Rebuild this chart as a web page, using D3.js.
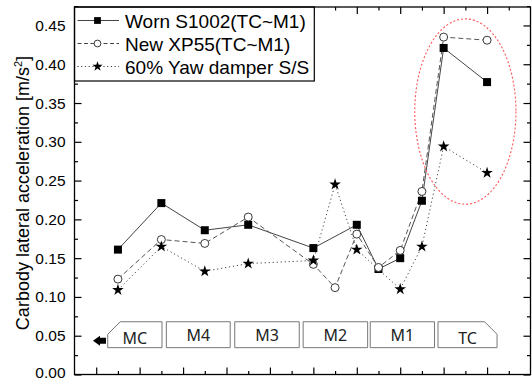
<!DOCTYPE html>
<html>
<head>
<meta charset="utf-8">
<script src="https://cdn.jsdelivr.net/npm/d3@7"></script>
<style>
  html, body { margin: 0; padding: 0; background: #fff; }
  svg { display: block; }
</style>
</head>
<body>
<svg id="chart" width="532" height="381"></svg>
<script>
// Measurement positions along the train (car sections)
const wornPos  = [2, 4, 6, 8, 11, 13, 14, 15, 16, 17, 19];
const wornVals = [0.161, 0.221, 0.186, 0.193, 0.163, 0.193, 0.136, 0.150, 0.224, 0.421, 0.377];

const xp55Pos  = [2, 4, 6, 8, 11, 12, 13, 14, 15, 16, 17, 19];
const xp55Vals = [0.123, 0.174, 0.169, 0.203, 0.142, 0.112, 0.181, 0.138, 0.160, 0.236, 0.435, 0.431];

const yawPos   = [2, 4, 6, 8, 11, 12, 13, 15, 16, 17, 19];
const yawVals  = [0.109, 0.165, 0.133, 0.143, 0.147, 0.245, 0.161, 0.110, 0.165, 0.294, 0.260];

const seriesNames = ["Worn S1002(TC~M1)", "New XP55(TC~M1)", "60% Yaw damper S/S"];

// Car sections drawn along the bottom of the plot
const carLabels = ["MC", "M4", "M3", "M2", "M1", "TC"];
const carStart  = [1.53, 4.23, 7.38, 10.53, 13.62, 16.74];
const carEnd    = [4.03, 7.17, 10.35, 13.5, 16.58, 19.46];

const yTickLabels = ["0.00", "0.05", "0.10", "0.15", "0.20", "0.25", "0.30", "0.35", "0.40", "0.45"];
const yAxisTitle = "Carbody lateral acceleration [m/s";

const svg = d3.select("#chart");
const L = 74.5, R = 530.5, T = 7, B = 374.5;

const x = d3.scaleLinear().domain([0, 21]).range([L, R]);
const y = d3.scaleLinear().domain([0, 0.4738]).range([B, T]);

const yMajor = yTickLabels.map(Number);
const yMinor = yMajor.map(v => v + 0.025);
const xTicks = d3.range(1, 21);
const xMajor = xTicks.filter(v => v % 2 === 1);
const xMinor = xTicks.filter(v => v % 2 === 0);

// Axes with inward ticks on all four sides
function tickAxis(gen, scale, values, size, transform) {
  svg.append("g")
    .attr("transform", transform)
    .call(gen(scale).tickValues(values).tickSize(size).tickFormat("").tickSizeOuter(0))
    .call(g => g.select(".domain").remove())
    .call(g => g.selectAll("line").attr("stroke", "#000").attr("stroke-width", 1.2));
}
tickAxis(d3.axisBottom, x, xMajor, -7, `translate(0,${B})`);
tickAxis(d3.axisBottom, x, xMinor, -3.5, `translate(0,${B})`);
tickAxis(d3.axisTop, x, xMajor, -7, `translate(0,${T})`);
tickAxis(d3.axisTop, x, xMinor, -3.5, `translate(0,${T})`);
tickAxis(d3.axisLeft, y, yMajor, -7, `translate(${L},0)`);
tickAxis(d3.axisLeft, y, yMinor, -3.5, `translate(${L},0)`);
tickAxis(d3.axisRight, y, yMajor, -7, `translate(${R},0)`);
tickAxis(d3.axisRight, y, yMinor, -3.5, `translate(${R},0)`);

// Y tick labels (the lowest one is nudged up to stay inside the canvas)
svg.append("g")
  .selectAll("text")
  .data(yTickLabels)
  .join("text")
  .attr("x", L - 9)
  .attr("y", d => Math.min(y(+d) + 5.5, 377.5))
  .attr("text-anchor", "end")
  .attr("font-family", "Liberation Sans, Arial, sans-serif")
  .attr("font-size", 15.5)
  .attr("fill", "#000")
  .text(d => d);

// Y axis title
const title = svg.append("text")
  .attr("transform", `translate(29,193) rotate(-90)`)
  .attr("text-anchor", "middle")
  .attr("font-family", "Liberation Sans, Arial, sans-serif")
  .attr("font-size", 18)
  .attr("fill", "#000");
title.append("tspan").text(yAxisTitle);
title.append("tspan").attr("font-size", 11).attr("dy", -7).text("2");
title.append("tspan").attr("dy", 7).text("]");

// Car section boxes
const boxTop = y(0.068), boxBot = y(0.0346), cham = 12.5;
carLabels.forEach((lab, i) => {
  const x0 = x(carStart[i]), x1 = x(carEnd[i]);
  let pts;
  if (i === 0) {
    pts = [[x0, boxTop + cham], [x0 + cham, boxTop], [x1, boxTop], [x1, boxBot], [x0, boxBot]];
  } else if (i === carLabels.length - 1) {
    pts = [[x0, boxTop], [x1 - cham, boxTop], [x1, boxTop + cham], [x1, boxBot], [x0, boxBot]];
  } else {
    pts = [[x0, boxTop], [x1, boxTop], [x1, boxBot], [x0, boxBot]];
  }
  svg.append("polygon")
    .attr("points", pts.map(p => p.join(",")).join(" "))
    .attr("fill", "#fff")
    .attr("stroke", "#777")
    .attr("stroke-width", 1);
  const end = (i === 0 || i === carLabels.length - 1);
  svg.append("text")
    .attr("x", (x0 + x1) / 2)
    .attr("y", end ? boxBot - 4 : boxBot - 7)
    .attr("text-anchor", "middle")
    .attr("font-family", "Noto Sans, Open Sans, sans-serif")
    .attr("font-size", 16)
    .attr("fill", "#222")
    .text(lab);
});

// Direction arrow pointing left
const ay = y(0.0436), ax = x(0.85);
svg.append("path")
  .attr("d", `M${ax},${ay} L${ax + 7},${ay - 5} L${ax + 7},${ay - 3} L${ax + 13},${ay - 3} L${ax + 13},${ay + 3} L${ax + 7},${ay + 3} L${ax + 7},${ay + 5} Z`)
  .attr("fill", "#000");

// Series lines
const line = d3.line().x(d => x(d[0])).y(d => y(d[1]));
const worn = wornPos.map((p, i) => [p, wornVals[i]]);
const xp55 = xp55Pos.map((p, i) => [p, xp55Vals[i]]);
const yaw = yawPos.map((p, i) => [p, yawVals[i]]);

svg.append("path").datum(worn).attr("d", line)
  .attr("fill", "none").attr("stroke", "#444").attr("stroke-width", 1);
svg.append("path").datum(xp55).attr("d", line)
  .attr("fill", "none").attr("stroke", "#555").attr("stroke-width", 1)
  .attr("stroke-dasharray", "5,3");
svg.append("path").datum(yaw).attr("d", line)
  .attr("fill", "none").attr("stroke", "#444").attr("stroke-width", 1)
  .attr("stroke-dasharray", "1.2,2.8");

// Markers
const sq = d3.symbol().type(d3.symbolSquare).size(64);
const star = d3.symbol().type(d3.symbolStar).size(42);

svg.append("g").selectAll("path").data(worn).join("path")
  .attr("d", sq).attr("transform", d => `translate(${x(d[0])},${y(d[1])})`)
  .attr("fill", "#000");
svg.append("g").selectAll("circle").data(xp55).join("circle")
  .attr("cx", d => x(d[0])).attr("cy", d => y(d[1])).attr("r", 4)
  .attr("fill", "#fff").attr("stroke", "#222").attr("stroke-width", 0.9);
svg.append("g").selectAll("path").data(yaw).join("path")
  .attr("d", star).attr("transform", d => `translate(${x(d[0])},${y(d[1])})`)
  .attr("fill", "#000");

// Highlight ellipse around the TC readings
const ecx = 18, ecy = 0.339;
svg.append("ellipse")
  .attr("cx", x(ecx)).attr("cy", y(ecy))
  .attr("rx", x(ecx + 2.33) - x(ecx)).attr("ry", y(ecy - 0.1195) - y(ecy))
  .attr("fill", "none").attr("stroke", "#f55").attr("stroke-width", 1.1)
  .attr("stroke-dasharray", "2,2");

// Legend
const legendRight = 314.3, legendBottom = 81;
svg.append("rect")
  .attr("x", L).attr("y", T).attr("width", legendRight - L).attr("height", legendBottom - T)
  .attr("fill", "#fff").attr("stroke", "#000").attr("stroke-width", 1.2);
const legendRows = [20.5, 43.5, 66.5];
const legendDash = [null, "4,2.5", "1.2,2.5"];
seriesNames.forEach((name, i) => {
  const cy = legendRows[i];
  svg.append("line")
    .attr("x1", L + 3).attr("x2", 119).attr("y1", cy).attr("y2", cy)
    .attr("stroke", "#444").attr("stroke-width", 1)
    .attr("stroke-dasharray", legendDash[i]);
  const mx = 97.5;
  if (i === 0) {
    svg.append("path").attr("d", d3.symbol().type(d3.symbolSquare).size(46)())
      .attr("transform", `translate(${mx},${cy})`).attr("fill", "#000");
  } else if (i === 1) {
    svg.append("circle").attr("cx", mx).attr("cy", cy).attr("r", 3.4)
      .attr("fill", "#fff").attr("stroke", "#222").attr("stroke-width", 0.9);
  } else {
    svg.append("path").attr("d", d3.symbol().type(d3.symbolStar).size(32)())
      .attr("transform", `translate(${mx},${cy})`).attr("fill", "#000");
  }
  svg.append("text")
    .attr("x", 125).attr("y", cy + 7)
    .attr("font-family", "Liberation Sans, Arial, sans-serif")
    .attr("font-size", 19)
    .attr("fill", "#000")
    .text(name);
});

// Plot frame
svg.append("rect")
  .attr("x", L).attr("y", T).attr("width", R - L).attr("height", B - T)
  .attr("fill", "none").attr("stroke", "#000").attr("stroke-width", 1.3);
</script>
</body>
</html>
